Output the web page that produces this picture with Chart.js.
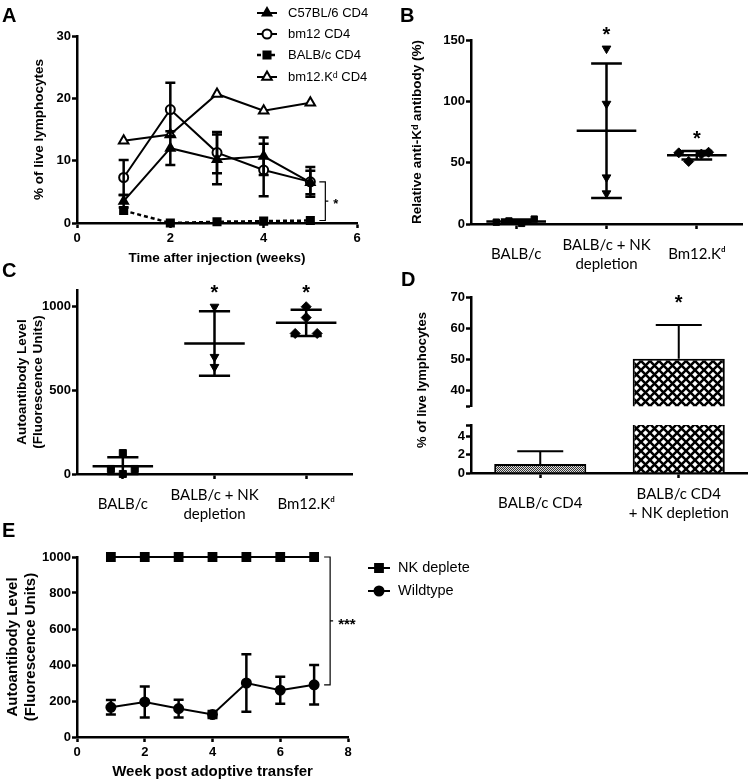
<!DOCTYPE html>
<html>
<head>
<meta charset="utf-8">
<script src="https://cdn.jsdelivr.net/npm/chart.js@4.4.1/dist/chart.umd.min.js"></script>
<style>
body { margin: 0; background: #fff; }
#fig { position: relative; width: 748px; height: 780px; overflow: hidden; background: #fff; }
canvas { position: absolute; }
.lbl { position: absolute; font: bold 20px "Liberation Sans", Arial, sans-serif; line-height: 20px; }
</style>
</head>
<body>
<div id="fig">
  <canvas id="cA" width="380" height="270" style="left:0;top:0"></canvas>
  <canvas id="cB" width="368" height="275" style="left:380px;top:0"></canvas>
  <canvas id="cC" width="380" height="265" style="left:0;top:270px"></canvas>
  <canvas id="cD2" width="368" height="255" style="left:380px;top:280px"></canvas>
  <canvas id="cD1" width="368" height="135" style="left:380px;top:280px"></canvas>
  <canvas id="cE" width="748" height="247" style="left:0;top:535px"></canvas>
  <div class="lbl" style="left:2px;top:5px">A</div>
  <div class="lbl" style="left:400px;top:5px">B</div>
  <div class="lbl" style="left:2px;top:260px">C</div>
  <div class="lbl" style="left:401px;top:269px">D</div>
  <div class="lbl" style="left:2px;top:520px">E</div>
</div>
<script>
const FONT = '"Liberation Sans", Arial, sans-serif';
const CAT_FONT = 'Lato, "Open Sans", sans-serif';

// A: % of live lymphocytes over time
const weeksA = [1, 2, 3, 4, 5];
const c57 = [3.5, 12.0, 10.2, 10.7, 6.5];
const c57Sd = [1.0, 2.7, 4.0, 3.0, 1.9];
const bm12 = [7.3, 18.2, 11.3, 8.5, 6.6];
const bm12Sd = [2.8, 4.3, 3.3, 4.2, 2.4];
const balbA = [2.0, 0.0, 0.2, 0.3, 0.4];
const bm12Kd = [13.2, 14.2, 20.7, 18.0, 19.3];
const ticksA = [0, 10, 20, 30];
const weekTicksA = [0, 2, 4, 6];

// B: relative anti-Kd antibody
const groupsB = ['BALB/c', ['BALB/c + NK', 'depletion'], 'Bm12.Kᵈ'];
const balbB = [1.5, 2.5, 0.5, 4.0];
const nkB = [143, 98, 38, 25];
const bm12KdB = [58, 58.5, 57, 51];
const jitBalbB = [-0.22, -0.08, 0.06, 0.2];
const jitBm12B = [-0.2, 0.13, 0.05, -0.09];
const ticksB = [0, 50, 100, 150];

// C: autoantibody level
const balbC = [125, 30, 30, 0];
const nkC = [1000, 700, 640];
const bm12KdC = [1000, 935, 840, 840];
const jitBalbC = [0, -0.13, 0.13, 0];
const jitBm12C = [0, 0, -0.12, 0.12];
const ticksC = [0, 500, 1000];

// D: broken-axis bars
const groupsD = ['BALB/c CD4', ['BALB/c CD4', '+ NK depletion']];
const meanD = [1.0, 50.2];
const sdD = [1.4, 10.8];
const ticksDTop = [35, 40, 50, 60, 70];
const ticksDBottom = [0, 2, 4, 5.3];

// E: autoantibody after adoptive transfer
const weeksE = [1, 2, 3, 4, 5, 6, 7];
const nkE = [1000, 1000, 1000, 1000, 1000, 1000, 1000];
const wtE = [165, 195, 158, 125, 300, 260, 290];
const wtSd = [40, 86, 49, 19, 160, 75, 110];
const ticksE = [0, 200, 400, 600, 800, 1000];
const weekTicksE = [0, 2, 4, 6, 8];

Chart.defaults.font.family = FONT;
Chart.defaults.color = '#000';

function xy(xs, ys) { return xs.map((x, i) => ({ x: x, y: ys[i] })); }
function jit(group, vals, jitter) { return vals.map((v, i) => ({ x: group + (jitter ? jitter[i] : 0), y: v })); }

function axis(o) {
  return {
    type: 'linear', position: o.pos, min: o.min, max: o.max, display: o.display ?? true, offset: false,
    afterFit: s => { if (o.pos === 'left') s.width = o.size; else s.height = o.size; },
    afterBuildTicks: s => { s.ticks = o.ticks.map(v => ({ value: v })); },
    border: { display: true, color: '#000', width: 2.5 },
    grid: { offset: false, drawOnChartArea: false, drawTicks: true, tickLength: 5, tickWidth: 2.5, tickColor: '#000' },
    ticks: {
      color: '#000', padding: o.tickPad ?? 1, autoSkip: false, maxRotation: 0,
      crossAlign: o.crossAlign || 'near',
      font: o.labelFont || { family: FONT, weight: 'bold', size: 13 },
      callback: v => (o.hide && o.hide.includes(v)) ? '' : (o.labels ? o.labels[v] : v)
    },
    title: o.title ? { display: true, text: o.title, color: '#000', font: o.tfont, padding: o.tpad } : { display: false }
  };
}

const baseOpts = {
  responsive: false, animation: false, events: [],
  plugins: { legend: { display: false }, tooltip: { enabled: false } }
};

function star(ctx, text, x, y, size) {
  ctx.save();
  ctx.fillStyle = '#000';
  ctx.font = 'bold ' + size + 'px ' + FONT;
  ctx.textAlign = 'center';
  ctx.textBaseline = 'middle';
  ctx.fillText(text, x, y + size * 0.25);
  ctx.restore();
}

// error bars from dataset.errs (upOnly for bars)
const errorBars = {
  id: 'errorBars',
  afterDatasetsDraw(chart) {
    const ctx = chart.ctx, ys = chart.scales.y;
    chart.data.datasets.forEach((ds, i) => {
      if (!ds.errs) return;
      const meta = chart.getDatasetMeta(i);
      ctx.save();
      ctx.strokeStyle = '#000';
      ctx.lineWidth = ds.errWidth || 2.5;
      meta.data.forEach((el, j) => {
        const v = ds.data[j].y, e = ds.errs[j];
        if (!e || v + e > ys.max) return;
        const top = ys.getPixelForValue(v + e);
        const bot = ds.upOnly ? el.y : ys.getPixelForValue(v - e);
        const w = ds.capHalf || 5;
        ctx.beginPath();
        ctx.moveTo(el.x, top); ctx.lineTo(el.x, bot);
        ctx.moveTo(el.x - w, top); ctx.lineTo(el.x + w, top);
        if (!ds.upOnly) { ctx.moveTo(el.x - w, bot); ctx.lineTo(el.x + w, bot); }
        ctx.stroke();
        if (ds.star && ds.upOnly && j === ds.starAt) star(ctx, '*', el.x, top - 27, 20);
      });
      ctx.restore();
    });
  }
};

// mean +/- SD lines for scatter groups
const groupStats = {
  id: 'groupStats',
  afterDatasetsDraw(chart) {
    const ctx = chart.ctx, xs = chart.scales.x, ys = chart.scales.y;
    const unit = xs.getPixelForValue(1) - xs.getPixelForValue(0);
    chart.data.datasets.forEach(ds => {
      const vals = ds.data.map(p => p.y);
      const n = vals.length;
      const m = vals.reduce((a, b) => a + b, 0) / n;
      const sd = Math.sqrt(vals.reduce((a, b) => a + (b - m) * (b - m), 0) / (n - 1));
      const cx = xs.getPixelForValue(ds.group);
      const mw = unit * 0.33, cw = unit * 0.17;
      const pm = ys.getPixelForValue(m), pt = ys.getPixelForValue(m + sd), pb = ys.getPixelForValue(Math.max(m - sd, ys.min));
      ctx.save();
      ctx.strokeStyle = '#000';
      ctx.lineWidth = 2.5;
      ctx.beginPath();
      ctx.moveTo(cx - mw, pm); ctx.lineTo(cx + mw, pm);
      ctx.moveTo(cx, pt); ctx.lineTo(cx, pb);
      ctx.moveTo(cx - cw, pt); ctx.lineTo(cx + cw, pt);
      ctx.moveTo(cx - cw, pb); ctx.lineTo(cx + cw, pb);
      ctx.stroke();
      ctx.restore();
      if (ds.star) star(ctx, '*', cx, ys.getPixelForValue(Math.max(...vals)) - 18, 20);
    });
  }
};

function legendPlugin(x0, x1, tx, ys, size) {
  return {
    id: 'customLegend',
    afterDraw(chart) {
      const ctx = chart.ctx;
      chart.data.datasets.forEach((ds, i) => {
        const y = ys[i];
        ctx.save();
        ctx.strokeStyle = '#000';
        ctx.lineWidth = ds.borderWidth;
        ctx.setLineDash(ds.borderDash || []);
        ctx.beginPath(); ctx.moveTo(x0, y); ctx.lineTo(x1, y); ctx.stroke();
        ctx.setLineDash([]);
        ctx.fillStyle = ds.pointBackgroundColor;
        ctx.lineWidth = ds.pointBorderWidth;
        Chart.helpers.drawPoint(ctx, { pointStyle: ds.pointStyle, radius: ds.pointRadius, borderWidth: ds.pointBorderWidth, rotation: 0 }, (x0 + x1) / 2, y);
        ctx.fillStyle = '#000';
        ctx.font = size + 'px ' + FONT;
        ctx.textAlign = 'left';
        ctx.textBaseline = 'middle';
        ctx.fillText(ds.label, tx, y);
        ctx.restore();
      });
    }
  };
}

function bracketPlugin(fn) {
  return {
    id: 'bracket',
    afterDraw(chart) {
      const b = fn(chart), ctx = chart.ctx;
      ctx.save();
      ctx.strokeStyle = '#000';
      ctx.lineWidth = 1.2;
      ctx.beginPath();
      ctx.moveTo(b.x - 6, b.top); ctx.lineTo(b.x, b.top); ctx.lineTo(b.x, b.bot); ctx.lineTo(b.x - 6, b.bot);
      const mid = (b.top + b.bot) / 2;
      ctx.moveTo(b.x, mid); ctx.lineTo(b.x + 3, mid);
      ctx.stroke();
      ctx.restore();
      ctx.save();
      ctx.fillStyle = '#000';
      ctx.font = 'bold ' + b.size + 'px ' + FONT;
      ctx.textAlign = 'left';
      ctx.textBaseline = 'middle';
      ctx.fillText(b.text, b.x + 8, mid + b.size * 0.25);
      ctx.restore();
    }
  };
}

function lineDs(label, xs, ys, style, fill, extra) {
  return Object.assign({
    label: label, data: xy(xs, ys), borderColor: '#000', borderWidth: 2,
    pointStyle: style, pointRadius: 5, pointBorderWidth: 2,
    pointBackgroundColor: fill, pointBorderColor: '#000', tension: 0, clip: false
  }, extra || {});
}

const titleFont = { family: FONT, weight: 'bold', size: 13.5 };
const catFont = { family: CAT_FONT, size: 15, lineHeight: 1.25 };

// ---- A
new Chart(document.getElementById('cA'), {
  type: 'line',
  data: {
    datasets: [
      lineDs('C57BL/6 CD4', weeksA, c57, 'triangle', '#000', { errs: c57Sd }),
      lineDs('bm12 CD4', weeksA, bm12, 'circle', '#fff', { errs: bm12Sd, pointRadius: 4.5 }),
      lineDs('BALB/c CD4', weeksA, balbA, 'rect', '#000', { borderDash: [4, 3], borderWidth: 2.5, pointRadius: 5 }),
      lineDs('bm12.Kᵈ CD4', weeksA, bm12Kd, 'triangle', '#fff', { pointRadius: 5.5 })
    ]
  },
  options: Object.assign({}, baseOpts, {
    layout: { padding: { left: 0, top: 36, right: 23, bottom: 0 } },
    scales: {
      x: axis({ pos: 'bottom', min: 0, max: 6, ticks: weekTicksA, size: 47, tickPad: 3,
        title: 'Time after injection (weeks)', tfont: titleFont, tpad: { top: 0, bottom: 4 } }),
      y: axis({ pos: 'left', min: 0, max: 30, ticks: ticksA, size: 77,
        title: '% of live lymphocytes', tfont: titleFont, tpad: { top: 31, bottom: 0 } })
    }
  }),
  plugins: [errorBars, legendPlugin(257, 277, 288, [13, 34, 55, 77], 13),
    bracketPlugin(ch => ({
      x: ch.scales.x.getPixelForValue(weeksA[weeksA.length - 1]) + 15,
      top: ch.scales.y.getPixelForValue(Math.max(c57[4], bm12[4])),
      bot: ch.scales.y.getPixelForValue(balbA[4]),
      text: '*', size: 13
    }))]
});

// ---- B
function groupDs(group, data, style, extra) {
  return Object.assign({
    group: group, data: data, pointStyle: style, pointRadius: 5,
    pointBackgroundColor: '#000', pointBorderColor: '#000', pointBorderWidth: 1, showLine: false, clip: false
  }, extra || {});
}

new Chart(document.getElementById('cB'), {
  type: 'scatter',
  data: {
    datasets: [
      groupDs(0, jit(0, balbB, jitBalbB), 'rect', { pointRadius: 4.5 }),
      groupDs(1, jit(1, nkB), 'triangle', { pointRotation: 180, star: true }),
      groupDs(2, jit(2, bm12KdB, jitBm12B), 'rectRot', { star: true })
    ]
  },
  options: Object.assign({}, baseOpts, {
    layout: { padding: { left: 0, top: 40, right: 0, bottom: 0 } },
    scales: {
      x: axis({ pos: 'bottom', min: -0.5, max: 2.5, ticks: [0, 1, 2], labels: groupsB, size: 51,
        labelFont: catFont, crossAlign: 'center', tickPad: 16 }),
      y: axis({ pos: 'left', min: 0, max: 150, ticks: ticksB, size: 91,
        title: 'Relative anti-Kᵈ antibody (%)', tfont: titleFont, tpad: { top: 29, bottom: 0 } })
    }
  }),
  plugins: [groupStats]
});

// ---- C
new Chart(document.getElementById('cC'), {
  type: 'scatter',
  data: {
    datasets: [
      groupDs(0, jit(0, balbC, jitBalbC), 'rect', { pointRadius: 5 }),
      groupDs(1, jit(1, nkC), 'triangle', { pointRotation: 180, star: true }),
      groupDs(2, jit(2, bm12KdC, jitBm12C), 'rectRot', { star: true })
    ]
  },
  options: Object.assign({}, baseOpts, {
    layout: { padding: { left: 0, top: 20, right: 28, bottom: 0 } },
    scales: {
      x: axis({ pos: 'bottom', min: -0.5, max: 2.5, ticks: [0, 1, 2], labels: groupsB, size: 61,
        labelFont: catFont, crossAlign: 'center', tickPad: 16 }),
      y: axis({ pos: 'left', min: 0, max: 1100, ticks: ticksC, size: 77,
        title: ['Autoantibody Level', '(Fluorescence Units)'], tfont: titleFont,
        tpad: { top: 14, bottom: 0 } })
    }
  }),
  plugins: [groupStats]
});

// ---- D (broken axis: two stacked charts)
function stipple() {
  const c = document.createElement('canvas');
  c.width = 2; c.height = 2;
  const g = c.getContext('2d');
  g.fillStyle = '#ddd'; g.fillRect(0, 0, 2, 2);
  g.fillStyle = '#333'; g.fillRect(0, 0, 1, 1); g.fillRect(1, 1, 1, 1);
  return g.createPattern(c, 'repeat');
}
function crosshatch() {
  const c = document.createElement('canvas');
  c.width = 9; c.height = 9;
  const g = c.getContext('2d');
  g.fillStyle = '#fff'; g.fillRect(0, 0, 9, 9);
  g.strokeStyle = '#000'; g.lineWidth = 2.5;
  g.beginPath();
  g.moveTo(-1, -1); g.lineTo(10, 10);
  g.moveTo(10, -1); g.lineTo(-1, 10);
  g.stroke();
  return g.createPattern(c, 'repeat');
}
const fillsD = [stipple(), crosshatch()];

function barDsD() {
  return {
    data: meanD.map((v, i) => ({ x: i, y: v })),
    errs: sdD, upOnly: true, star: true, starAt: 1, capHalf: 23, errWidth: 2,
    backgroundColor: fillsD, borderColor: '#000', borderWidth: 2, borderSkipped: 'start',
    barPercentage: 0.665, categoryPercentage: 1
  };
}

new Chart(document.getElementById('cD1'), {
  type: 'bar',
  data: { datasets: [barDsD()] },
  options: Object.assign({}, baseOpts, {
    layout: { padding: { left: 0, top: 17, right: 0, bottom: 5 } },
    scales: {
      x: axis({ pos: 'bottom', min: -0.5, max: 1.5, ticks: [0, 1], size: 0, display: false }),
      y: axis({ pos: 'left', min: 35, max: 70, ticks: ticksDTop, hide: [35], size: 91 })
    }
  }),
  plugins: [errorBars]
});

new Chart(document.getElementById('cD2'), {
  type: 'bar',
  data: { datasets: [Object.assign(barDsD(), { star: false })] },
  options: Object.assign({}, baseOpts, {
    layout: { padding: { left: 0, top: 145, right: 0, bottom: 0 } },
    scales: {
      x: axis({ pos: 'bottom', min: -0.5, max: 1.5, ticks: [0, 1], labels: groupsD, size: 62,
        labelFont: catFont, crossAlign: 'center', tickPad: 16 }),
      y: axis({ pos: 'left', min: 0, max: 5.3, ticks: ticksDBottom, hide: [5.3], size: 91 })
    }
  }),
  plugins: [errorBars, {
    id: 'dTitle',
    afterDraw(chart) {
      const ctx = chart.ctx;
      ctx.save();
      ctx.translate(42, 100);
      ctx.rotate(-Math.PI / 2);
      ctx.font = 'bold 13px ' + FONT;
      ctx.fillStyle = '#000';
      ctx.textAlign = 'center';
      ctx.textBaseline = 'middle';
      ctx.fillText('% of live lymphocytes', 0, 0);
      ctx.restore();
    }
  }]
});

// ---- E
new Chart(document.getElementById('cE'), {
  type: 'line',
  data: {
    datasets: [
      lineDs('NK deplete', weeksE, nkE, 'rect', '#000', { pointRadius: 5.5 }),
      lineDs('Wildtype', weeksE, wtE, 'circle', '#000', { errs: wtSd, pointRadius: 4.5 })
    ]
  },
  options: Object.assign({}, baseOpts, {
    layout: { padding: { left: 0, top: 22, right: 400, bottom: 0 } },
    scales: {
      x: axis({ pos: 'bottom', min: 0, max: 8, ticks: weekTicksE, size: 45, tickPad: 3,
        title: 'Week post adoptive transfer', tfont: { family: FONT, weight: 'bold', size: 15 }, tpad: { top: 0, bottom: 1 } }),
      y: axis({ pos: 'left', min: 0, max: 1000, ticks: ticksE, size: 77,
        title: ['Autoantibody Level', '(Fluorescence Units)'], tfont: { family: FONT, weight: 'bold', size: 15 },
        tpad: { top: 4, bottom: 0 } })
    }
  }),
  plugins: [errorBars, legendPlugin(368, 390, 398, [33, 56], 14.5),
    bracketPlugin(ch => ({
      x: ch.scales.x.getPixelForValue(weeksE[weeksE.length - 1]) + 16,
      top: ch.scales.y.getPixelForValue(nkE[nkE.length - 1]),
      bot: ch.scales.y.getPixelForValue(wtE[wtE.length - 1]),
      text: '***', size: 15
    }))]
});
</script>
</body>
</html>
